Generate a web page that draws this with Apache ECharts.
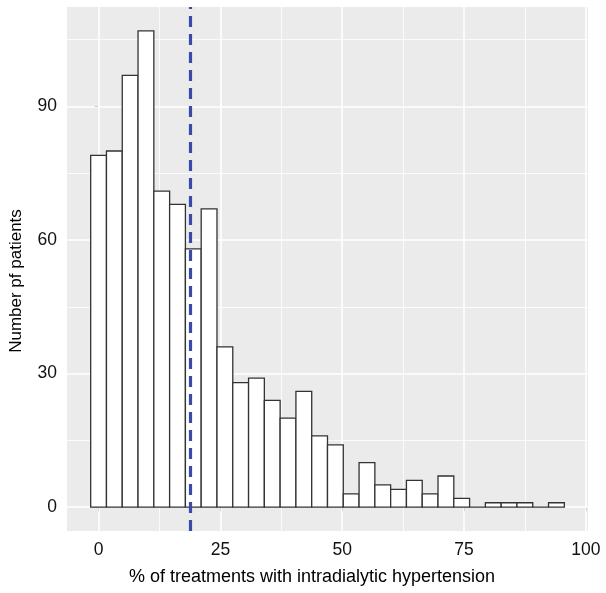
<!DOCTYPE html>
<html><head><meta charset="utf-8">
<script src="https://cdn.jsdelivr.net/npm/echarts@6/dist/echarts.min.js"></script>
<style>html,body{margin:0;padding:0;background:#fff}#c{width:606px;height:593px}</style>
</head><body><div id="c"></div>
<script>
// Histogram counts per bin
const counts = [79,80,97,107,71,68,58,67,36,28,29,24,20,26,16,14,3,10,5,4,6,3,7,2,0,1,1,1,0,1];
const binWidth = 3.24;
const firstBinCenter = 0;
const xTicks = [0,25,50,75,100];
const xMinor = [12.5,37.5,62.5,87.5];
const yTicks = [0,30,60,90];
const yMinor = [15,45,75,105];
const cutoff = 18.9;

const bins = counts.map((c,i)=>{
  const lo = firstBinCenter - binWidth/2 + i*binWidth;
  return [lo, lo+binWidth, c];
});
const xLo = bins[0][0], xHi = bins[bins.length-1][1];
const xPad = (xHi-xLo)*0.05;
const yMax = Math.max(...counts);
const yPad = yMax*0.05;

const FONT = 'Liberation Sans';
const chart = echarts.init(document.getElementById('c'), null, {renderer:'canvas'});
const gridLine = (arr, key, w) => arr.map(v => ({[key]: v, lineStyle:{color:'#ffffff', width:w, type:'solid'}}));

chart.setOption({
  animation:false,
  backgroundColor:'#ffffff',
  grid:{left:67, right:18, top:7, bottom:62, show:true, backgroundColor:'#EBEBEB', borderWidth:0},
  xAxis:{
    type:'value', min:xLo-xPad, max:xHi+xPad,
    name:'% of treatments with intradialytic hypertension',
    nameLocation:'middle', nameGap:37,
    nameTextStyle:{fontFamily:FONT, fontSize:18, color:'#000', padding:[0,31,0,0]},
    axisLine:{show:false},
    splitLine:{show:false},
    axisTick:{show:true, customValues:xTicks, length:4, lineStyle:{color:'#333', width:1}},
    axisLabel:{customValues:xTicks, fontFamily:FONT, fontSize:17.5, color:'#111', margin:10}
  },
  yAxis:{
    type:'value', min:-yPad, max:yMax+yPad,
    name:'Number pf patients',
    nameLocation:'middle', nameGap:42, nameRotate:90,
    nameTextStyle:{fontFamily:FONT, fontSize:17, color:'#000', padding:[0,24,0,0]},
    axisLine:{show:false},
    splitLine:{show:false},
    axisTick:{show:true, customValues:yTicks, length:4, lineStyle:{color:'#333', width:1}},
    axisLabel:{customValues:yTicks, fontFamily:FONT, fontSize:17.5, color:'#111', margin:10}
  },
  series:[
    {
      type:'line', data:[], z:1, silent:true,
      markLine:{
        z:1, silent:true, symbol:['none','none'], label:{show:false}, animation:false,
        data:[].concat(
          gridLine(xMinor,'xAxis',0.8), gridLine(yMinor,'yAxis',0.8),
          gridLine(xTicks,'xAxis',1.6), gridLine(yTicks,'yAxis',1.6))
      }
    },
    {
      type:'custom', z:3, data:bins,
      renderItem:(params, api)=>{
        const p0 = api.coord([api.value(0), api.value(2)]);
        const p1 = api.coord([api.value(1), 0]);
        return {type:'rect', shape:{x:p0[0], y:p0[1], width:p1[0]-p0[0], height:p1[1]-p0[1]},
          style:{fill:'#ffffff', stroke:'#333333', lineWidth:1.3}};
      }
    },
    {
      type:'line', data:[], z:6, silent:true,
      markLine:{
        z:10, silent:true, symbol:['none','none'], label:{show:false}, animation:false,
        data:[{xAxis:cutoff, lineStyle:{color:'#3A4AA8', width:3.2, type:[11,7]}}]
      }
    }
  ]
});
</script></body></html>
